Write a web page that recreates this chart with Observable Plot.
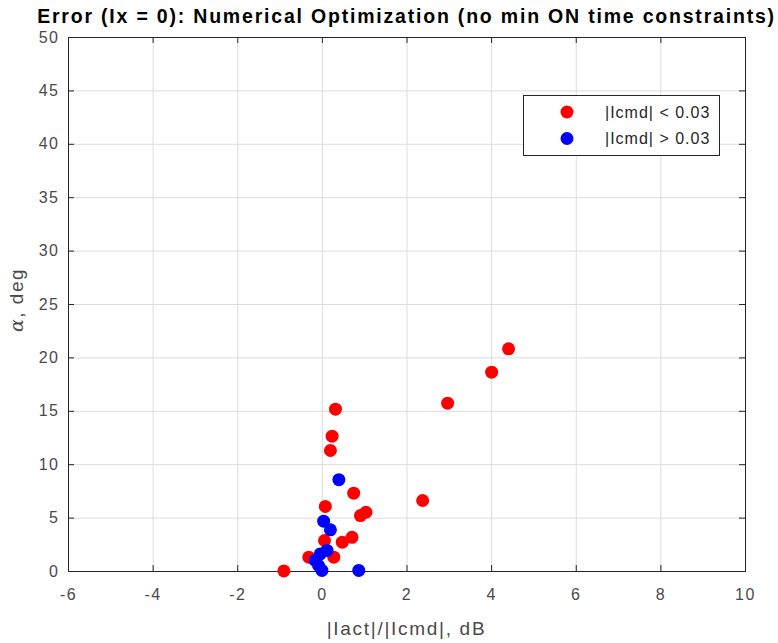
<!DOCTYPE html>
<html>
<head>
<meta charset="utf-8">
<script src="https://cdn.jsdelivr.net/npm/d3@7"></script>
<script src="https://cdn.jsdelivr.net/npm/@observablehq/plot@0.6"></script>
<style>
  html, body { margin: 0; padding: 0; background: #fff; }
  svg { display: block; }
  g[aria-label="x-axis tick label"] text,
  g[aria-label="y-axis tick label"] text { letter-spacing: 1.5px; }
</style>
</head>
<body>
<div id="chart"></div>
<script>
const title = "Error (Ix = 0): Numerical Optimization (no min ON time constraints)";
const xLabel = "|Iact|/|Icmd|, dB";
const yLabelGreek = "α";
const yLabelRest = ", deg";
const xTicks = [-6, -4, -2, 0, 2, 4, 6, 8, 10];
const yTicks = [0, 5, 10, 15, 20, 25, 30, 35, 40, 45, 50];
const seriesNames = ["|Icmd| < 0.03", "|Icmd| > 0.03"];

const redX = [-0.91, -0.32, 0.27, 0.05, 0.47, 0.70, 0.07, 0.90, 1.03, 0.74, 0.19, 0.23, 0.31, 2.37, 2.96, 4.00, 4.40];
const redY = [0.05, 1.34, 1.34, 2.90, 2.75, 3.20, 6.09, 5.24, 5.55, 7.33, 11.33, 12.67, 15.20, 6.65, 15.76, 18.66, 20.85];
const blueX = [-0.01, 0.86, -0.09, -0.17, -0.05, 0.11, 0.19, 0.03, 0.39];
const blueY = [0.10, 0.10, 0.56, 1.03, 1.65, 1.97, 3.90, 4.71, 8.60];

const red = redX.map((x, i) => ({x, y: redY[i]}));
const blue = blueX.map((x, i) => ({x, y: blueY[i]}));

const W = 778, H = 643;
const mL = 68, mR = 33, mT = 37, mB = 72;
const frameW = W - mL - mR, frameH = H - mT - mB;
const axisColor = "#262626";
const labelColor = "#4a4a4a";
const font = "Liberation Sans, Arial, sans-serif";

const plot = Plot.plot({
  width: W,
  height: H,
  marginLeft: mL,
  marginRight: mR,
  marginTop: mT,
  marginBottom: mB,
  style: {fontFamily: font, fontSize: "16px", color: axisColor, background: "#fff"},
  x: {domain: [-6, 10], ticks: xTicks},
  y: {domain: [0, 50], ticks: yTicks},
  marks: [
    Plot.gridX(xTicks, {stroke: "#dcdcdc", strokeOpacity: 1, strokeWidth: 1}),
    Plot.gridY(yTicks, {stroke: "#dcdcdc", strokeOpacity: 1, strokeWidth: 1}),
    Plot.ruleX(xTicks, {x: d => d, insetTop: frameH - 6, stroke: axisColor}),
    Plot.ruleX(xTicks, {x: d => d, insetBottom: frameH - 6, stroke: axisColor}),
    Plot.ruleY(yTicks, {y: d => d, insetRight: frameW - 6, stroke: axisColor}),
    Plot.ruleY(yTicks, {y: d => d, insetLeft: frameW - 6, stroke: axisColor}),
    Plot.frame({stroke: axisColor, strokeWidth: 1}),
    Plot.axisX(xTicks, {tickSize: 0, tickPadding: 17, label: null, fill: labelColor, fontSize: 16, tickFormat: d => String(d)}),
    Plot.axisY(yTicks, {tickSize: 0, tickPadding: 9, label: null, fill: labelColor, fontSize: 16, tickFormat: d => String(d)}),
    Plot.dot(red, {x: "x", y: "y", r: 6.5, fill: "#ff0000", stroke: "none"}),
    Plot.dot(blue, {x: "x", y: "y", r: 6.5, fill: "#0000ff", stroke: "none"})
  ]
});

document.getElementById("chart").appendChild(plot);

const svg = d3.select(plot);
const cx = mL + frameW / 2;

// title
svg.append("text")
  .attr("x", cx).attr("y", 23)
  .attr("text-anchor", "middle")
  .attr("font-family", font).attr("font-size", 19.5).attr("font-weight", "bold")
  .attr("letter-spacing", "1.8px")
  .attr("fill", "#000")
  .text(title);

// x label
svg.append("text")
  .attr("x", cx).attr("y", 635)
  .attr("text-anchor", "middle")
  .attr("font-family", font).attr("font-size", 19)
  .attr("letter-spacing", "1.7px")
  .attr("fill", labelColor)
  .text(xLabel);

// y label with italic alpha
const yl = svg.append("text")
  .attr("transform", `translate(23,${mT + frameH / 2 - 4}) rotate(-90)`)
  .attr("text-anchor", "middle")
  .attr("font-family", font)
  .attr("font-size", 19)
  .attr("letter-spacing", "1.5px")
  .attr("fill", labelColor);
yl.append("tspan").attr("font-style", "italic").attr("font-family", "DejaVu Serif, serif").text(yLabelGreek);
yl.append("tspan").text(yLabelRest);

// legend
const lg = svg.append("g");
lg.append("rect").attr("x", 523.5).attr("y", 95.5).attr("width", 196).attr("height", 60)
  .attr("fill", "#fff").attr("stroke", axisColor);
const colors = ["#ff0000", "#0000ff"];
seriesNames.forEach((name, i) => {
  const cy = 112 + i * 26.5;
  lg.append("circle").attr("cx", 567).attr("cy", cy).attr("r", 6.5).attr("fill", colors[i]);
  lg.append("text").attr("x", 605).attr("y", cy).attr("dy", "0.35em")
    .attr("text-anchor", "start")
    .attr("font-family", font).attr("font-size", 16).attr("letter-spacing", "1px")
    .attr("fill", axisColor).text(name);
});
</script>
</body>
</html>
